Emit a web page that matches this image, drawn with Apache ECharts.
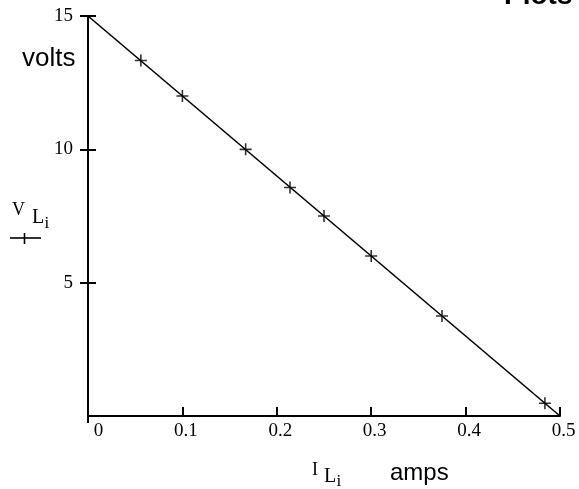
<!DOCTYPE html>
<html>
<head>
<meta charset="utf-8">
<script src="https://cdn.jsdelivr.net/npm/echarts@6/dist/echarts.min.js"></script>
<style>
  html, body { margin: 0; padding: 0; background: #fff; }
  #chart { width: 579px; height: 489px; }
</style>
</head>
<body>
<div id="chart"></div>
<script>
// measured points (load current in amps, load voltage in volts)
var currentI = [0.056, 0.1, 0.167, 0.214, 0.25, 0.3, 0.375, 0.484];
var voltsV = [13.33, 12, 10, 8.57, 7.5, 6, 3.75, 0.48];
// straight line through the end points
var lineI = [0, 0.5];
var lineV = [15, 0];

var plusSymbol = 'path://M0,5.2h12v1.6h-12z M5.2,0h1.6v12h-1.6z';
var serif = '"Liberation Serif", "DejaVu Serif", serif';
var sans = '"Liberation Sans", Arial, sans-serif';

var chart = echarts.init(document.getElementById('chart'));

var pointData = currentI.map(function (x, i) { return [x, voltsV[i]]; });
var lineData = lineI.map(function (x, i) { return [x, lineV[i]]; });

var option = {
  animation: false,
  grid: { left: 88, right: 19, top: 16, bottom: 73 },
  xAxis: [
    {
      type: 'value', min: 0, max: 0.5, interval: 0.1,
      axisLine: { lineStyle: { color: '#000', width: 2 } },
      axisTick: { inside: true, length: 9, lineStyle: { color: '#000', width: 2 } },
      splitLine: { show: false },
      axisLabel: {
        color: '#000', fontFamily: serif, fontSize: 19, margin: 6,
        padding: [0, 0, 0, 7],
        formatter: function (v) { return v === 0 ? '{z|0}' : String(v); },
        rich: { z: { fontFamily: serif, fontSize: 19, color: '#000', padding: [0, 0, 0, 14] } }
      }
    },
    {
      type: 'value', min: 0, max: 0.5, interval: 0.1, position: 'bottom',
      axisLine: { show: false },
      axisTick: { inside: false, length: 7, customValues: [0], lineStyle: { color: '#000', width: 2 } },
      axisLabel: { show: false },
      splitLine: { show: false }
    }
  ],
  yAxis: [
    {
      type: 'value', min: 0, max: 15, interval: 5,
      axisLine: { show: true, lineStyle: { color: '#000', width: 2 } },
      axisTick: { show: true, inside: false, length: 8, lineStyle: { color: '#000', width: 2 } },
      splitLine: { show: false },
      axisLabel: {
        color: '#000', fontFamily: serif, fontSize: 19, margin: 15,
        showMinLabel: false
      }
    },
    {
      type: 'value', min: 0, max: 15, interval: 5, position: 'left',
      axisLine: { show: false },
      axisTick: { show: true, inside: true, length: 8, lineStyle: { color: '#000', width: 2 } },
      axisLabel: { show: false },
      splitLine: { show: false }
    }
  ],
  series: [
    {
      type: 'line',
      data: lineData,
      showSymbol: false,
      lineStyle: { color: '#000', width: 1.6 },
      z: 3
    },
    {
      type: 'scatter',
      data: pointData,
      symbol: plusSymbol,
      symbolSize: 12,
      itemStyle: { color: '#000' },
      z: 4
    }
  ],
  graphic: [
    { type: 'text', x: 504, y: 10, style: { text: 'Plots', font: 'bold 28px ' + sans, fill: '#000', verticalAlign: 'bottom' } },
    { type: 'text', x: 22, y: 59, style: { text: 'volts', font: '26px ' + sans, fill: '#000', verticalAlign: 'middle' } },
    { type: 'text', x: 12, y: 210, style: { text: 'V', font: '18px ' + serif, fill: '#000', verticalAlign: 'middle' } },
    { type: 'text', x: 32, y: 218, style: { text: 'L', font: '20px ' + serif, fill: '#000', verticalAlign: 'middle' } },
    { type: 'text', x: 44.5, y: 224, style: { text: 'i', font: '17px ' + serif, fill: '#000', verticalAlign: 'middle' } },
    { type: 'line', shape: { x1: 10, y1: 238, x2: 41, y2: 238 }, style: { stroke: '#000', lineWidth: 1.6 } },
    { type: 'line', shape: { x1: 24.5, y1: 233, x2: 24.5, y2: 244 }, style: { stroke: '#000', lineWidth: 1.6 } },
    { type: 'text', x: 312, y: 470, style: { text: 'I', font: '18px ' + serif, fill: '#000', verticalAlign: 'middle' } },
    { type: 'text', x: 324, y: 477, style: { text: 'L', font: '20px ' + serif, fill: '#000', verticalAlign: 'middle' } },
    { type: 'text', x: 336.5, y: 482, style: { text: 'i', font: '17px ' + serif, fill: '#000', verticalAlign: 'middle' } },
    { type: 'text', x: 390, y: 473, style: { text: 'amps', font: '24px ' + sans, fill: '#000', verticalAlign: 'middle' } }
  ]
};

chart.setOption(option);
</script>
</body>
</html>
